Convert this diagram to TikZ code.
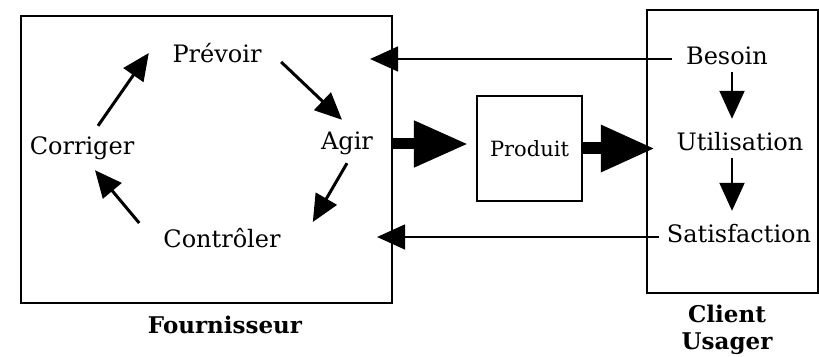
\documentclass[tikz,border=0pt]{standalone}
\usepackage{fontspec}
\setmainfont{DejaVu Serif}
\usetikzlibrary{arrows.meta, positioning}

\begin{document}
\begin{tikzpicture}[
			x=1pt, y=1pt,
			% Gaya untuk kotak (Node Styles)
			frame/.style={
				rectangle,
				draw=black,
				line width=2.2pt,
				inner sep=0pt
			},
			label/.style={
				font=\fontsize{24}{28}\selectfont,
				text height=18pt,
				text depth=6pt,
				inner sep=1pt,
				anchor=base
			},
			title/.style={
				font=\fontsize{23}{27}\selectfont\bfseries,
				align=center,
				inner sep=0pt,
				anchor=base
			},
			% Gaya untuk garis panah
			thinarrow/.style={
				-{Triangle[length=28pt, width=25pt]},
				line width=2pt
			},
			looparrow/.style={
				-{Triangle[length=27pt, width=24pt]},
				line width=3pt
			},
			bigarrow/.style={
				-{Triangle[length=54pt, width=44pt]},
				line width=11pt
			}
			]
			
			\useasboundingbox (0,0) rectangle (819,356);
			
			% Kotak-kotak utama
			\node[frame, minimum width=371pt, minimum height=287pt] (fournisseur) at (206.5,196.5) {};
			\node[frame, minimum width=171pt, minimum height=283pt] (client) at (732.5,204.5) {};
			\node[frame, minimum width=105pt, minimum height=105pt, font=\fontsize{21}{24}\selectfont] (produit) at (529.5,207.5) {Produit};
			
			% Siklus di dalam kotak pemasok
			\node[label] (prevoir) at (217,293) {Prévoir};
			\node[label] (agir) at (347,206) {Agir};
			\node[label] (controler) at (222,108) {Contrôler};
			\node[label] (corriger) at (82,201) {Corriger};
			
			% Tahapan di sisi klien
			\node[label] (besoin) at (727,291) {Besoin};
			\node[label] (utilisation) at (740,205) {Utilisation};
			\node[label] (satisfaction) at (739,113) {Satisfaction};
			
			% Judul di bawah kotak
			\node[title] (fourn) at (225,23) {Fournisseur};
			\node[title] (usager) at (727,6) {Client\\Usager};
			
			% Panah siklus
			\draw[looparrow] ([shift={(16,10)}]corriger.north) -- ([shift={(-22.5,4)}]prevoir.west);
			\draw[looparrow] ([shift={(18.5,-5)}]prevoir.east) -- ([shift={(-5,11)}]agir.north);
			\draw[looparrow] ([shift={(0,-6)}]agir.south) -- ([shift={(31,20)}]controler.east);
			\draw[looparrow] ([shift={(-23,19)}]controler.west) -- ([shift={(13,-8)}]corriger.south);
			
			% Umpan balik dari klien
			\draw[thinarrow, line width=1.6pt] ([xshift=-13pt]besoin.west) -- ([xshift=-23pt]fournisseur.east |- besoin.west);
			\draw[thinarrow, line width=1.6pt] ([xshift=-6.5pt]satisfaction.west) -- ([xshift=-16pt]fournisseur.east |- satisfaction.west);
			
			% Aliran produk
			\draw[bigarrow, shorten >=8pt] (fournisseur.east |- agir) -- (produit.west |- agir);
			\draw[bigarrow, line width=12pt, shorten >=-9pt] (produit.east) -- (client.west |- produit.east);
			
			% Urutan penggunaan
			\draw[thinarrow] ([xshift=5pt]besoin.south) -- ([xshift=5pt, yshift=13pt]besoin.south |- utilisation.north);
			\draw[thinarrow] ([xshift=-8pt]utilisation.south) -- ([xshift=-8pt, yshift=13pt]utilisation.south |- satisfaction.north);
			
		\end{tikzpicture}
\end{document}
